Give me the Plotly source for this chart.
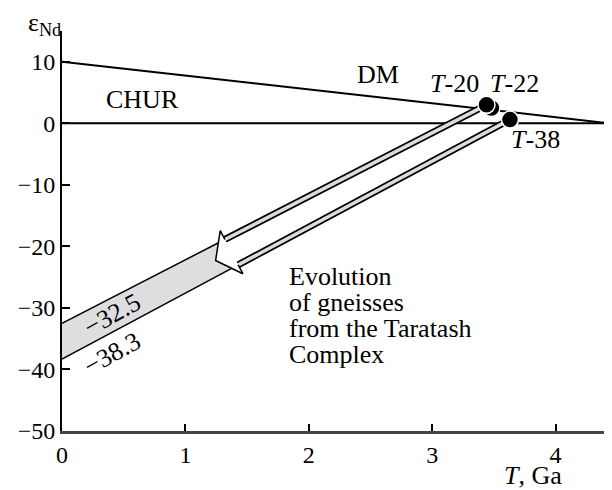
import numpy as np
import plotly.graph_objects as go

# ---------------- data ----------------
dm_age = [0.0, 4.44]
dm_eps = [10.0, 0.0]
chur_age = [0.0, 4.44]
chur_eps = [0.0, 0.0]

sample_names = ["T-22", "T-20", "T-38"]
sample_age = [3.48, 3.44, 3.63]
sample_eps = [2.5, 3.0, 0.6]

# present-day eps values of the two bounding evolution lines
present_labels = ["\u221232.5", "\u221238.3"]
present_eps = [-32.5, -38.3]
arrow_end_age = 1.32  # Ga, where the evolution arrows end

x_tickvals = [0, 1, 2, 3, 4]
x_ticktext = ["0", "1", "2", "3", "4"]
y_tickvals = [10, 0, -10, -20, -30, -40, -50]
y_ticktext = ["10", "0", "\u221210", "\u221220", "\u221230", "\u221240", "\u221250"]

# ---------------- layout constants ----------------
OFF = 8  # page body margin of the html document
W, H = 612 - OFF, 490 - OFF
ML, MR, MT = 62 - OFF, 0, 31 - OFF
MB = H - (431 - OFF)
XR = [0, 4.457]
YR = [-50, 15]
PW, PH = W - ML - MR, H - MT - MB
FONT = "Liberation Serif, Times New Roman, serif"
FS = 26
TFS = 24


def to_px(x, y):
    return np.array([ML + (x - XR[0]) / (XR[1] - XR[0]) * PW,
                     MT + (YR[1] - y) / (YR[1] - YR[0]) * PH])


def to_data(p):
    return (XR[0] + (p[0] - ML) / PW * (XR[1] - XR[0]),
            YR[1] - (p[1] - MT) / PH * (YR[1] - YR[0]))


def paper(px, py):
    # px, py: position in page pixels
    px, py = px - OFF, py - OFF
    return (px - ML) / PW, (H - MB - py) / PH


# evolution lines: upper through T-20, lower through T-38
i_up = sample_names.index("T-20")
i_lo = sample_names.index("T-38")
U1 = to_px(sample_age[i_up], sample_eps[i_up])
U0 = to_px(0, present_eps[0])
L1 = to_px(sample_age[i_lo], sample_eps[i_lo])
L0 = to_px(0, present_eps[1])


def unit(v):
    return v / np.linalg.norm(v)


d = unit(unit(U0 - U1) + unit(L0 - L1))
n = np.array([-d[1], d[0]])

slope_up = (sample_eps[i_up] - present_eps[0]) / sample_age[i_up]
UJ = to_px(arrow_end_age, present_eps[0] + slope_up * arrow_end_age)
A = np.column_stack([n, -(L1 - L0)])
t, s = np.linalg.solve(A, L0 - UJ)
LJ = UJ + t * n
M = (UJ + LJ) / 2
TIP = M + 18 * d
UB = UJ + 10 * n
LB = LJ - 10 * n

uj, lj, tip, ub, lb = map(to_data, [UJ, LJ, TIP, UB, LB])
u1, l1 = to_data(U1), to_data(L1)

fig = go.Figure()

# gray band
fig.add_trace(go.Scatter(
    x=[0, uj[0], lj[0], 0], y=[present_eps[0], uj[1], lj[1], present_eps[1]],
    fill="toself", fillcolor="#dedee0", line=dict(width=0), mode="lines",
    hoverinfo="skip", showlegend=False))
# band edges
for p0, pj in [((0, present_eps[0]), uj), ((0, present_eps[1]), lj)]:
    fig.add_trace(go.Scatter(x=[p0[0], pj[0]], y=[p0[1], pj[1]], mode="lines",
                             line=dict(color="black", width=1.5), showlegend=False))
# DM and CHUR
fig.add_trace(go.Scatter(x=dm_age, y=dm_eps, mode="lines",
                         line=dict(color="black", width=2), showlegend=False))
fig.add_trace(go.Scatter(x=chur_age, y=chur_eps, mode="lines",
                         line=dict(color="black", width=2), showlegend=False))
# arrow shafts (double lines)
for a, b in [(u1, uj), (l1, lj)]:
    fig.add_trace(go.Scatter(x=[a[0], b[0]], y=[a[1], b[1]], mode="lines",
                             line=dict(color="black", width=7), showlegend=False))
    fig.add_trace(go.Scatter(x=[a[0], b[0]], y=[a[1], b[1]], mode="lines",
                             line=dict(color="#dcdcdc", width=3.5), showlegend=False))
# arrow head
hx = [uj[0], ub[0], tip[0], lb[0], lj[0]]
hy = [uj[1], ub[1], tip[1], lb[1], lj[1]]
fig.add_trace(go.Scatter(x=hx, y=hy, fill="toself", fillcolor="white",
                         line=dict(width=0), mode="lines", showlegend=False))
fig.add_trace(go.Scatter(x=hx, y=hy, mode="lines",
                         line=dict(color="black", width=1.5), showlegend=False))
# samples
fig.add_trace(go.Scatter(x=sample_age, y=sample_eps, mode="markers",
                         marker=dict(size=17, color="black",
                                     line=dict(color="white", width=1.5)),
                         showlegend=False, cliponaxis=False))

ann = []


def txt(x, y, s, xref="x", yref="y", **kw):
    kw.setdefault("xanchor", "center")
    kw.setdefault("yanchor", "middle")
    ann.append(dict(x=x, y=y, xref=xref, yref=yref, text=s, showarrow=False,
                    font=dict(family=FONT, size=kw.pop("size", FS), color="black"),
                    **kw))


txt(2.557, 8.0, "DM")
txt(0.652, 3.8, "CHUR")
txt(3.18, 6.55, "<i>T</i>-20")
txt(3.667, 6.55, "<i>T</i>-22")
txt(3.837, -2.7, "<i>T</i>-38")
ev_lines = ["Evolution", "of gneisses", "from the Taratash", "Complex"]
for k, s in enumerate(ev_lines):
    px, py = paper(287, 276 + 26.3 * k)
    txt(px, py, s, xref="paper", yref="paper", xanchor="left")
txt(0.407, -31.0, present_labels[0], textangle=-29)
txt(0.407, -37.4, present_labels[1], textangle=-29)
px, py = paper(26, 8)
txt(px, py, "\u03b5<sub>Nd</sub>", xref="paper", yref="paper", xanchor="left",
    yanchor="top", height=28)
px, py = paper(533, 475)
txt(px, py, "<i>T</i>, Ga", xref="paper", yref="paper")

fig.update_layout(
    width=W, height=H, margin=dict(l=ML, r=MR, t=MT, b=MB, autoexpand=False),
    plot_bgcolor="white", paper_bgcolor="white", annotations=ann,
    xaxis=dict(range=XR, showgrid=False, zeroline=False, showline=True,
               automargin=False,
               linecolor="#444", linewidth=2.5, ticks="inside", ticklen=7,
               tickwidth=1.5, tickcolor="black", tickvals=x_tickvals,
               ticktext=x_ticktext,
               tickfont=dict(family=FONT, size=TFS, color="black")),
    yaxis=dict(range=YR, showgrid=False, zeroline=False, showline=True,
               automargin=False,
               linecolor="black", linewidth=2, ticks="inside", ticklen=8,
               tickwidth=1.5, tickcolor="black", tickvals=y_tickvals,
               ticktext=y_ticktext,
               tickfont=dict(family=FONT, size=TFS, color="black")),
)

fig.write_html("out.html")
